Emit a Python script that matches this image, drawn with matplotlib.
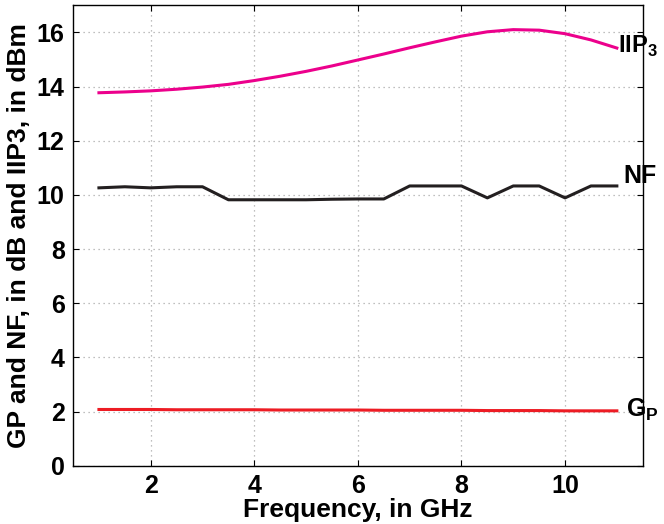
import matplotlib
matplotlib.use("Agg")
from matplotlib import pyplot as plt

# frequency points, GHz
freq = [1, 1.5, 2, 2.5, 3, 3.5, 4, 4.5, 5, 5.5, 6, 6.5, 7, 7.5, 8, 8.5, 9, 9.5, 10, 10.5, 11]

iip3 = [13.77, 13.8, 13.84, 13.9, 13.98, 14.08, 14.22, 14.38, 14.56, 14.76, 14.98,
        15.2, 15.43, 15.65, 15.86, 16.02, 16.1, 16.08, 15.95, 15.72, 15.42]
nf = [10.26, 10.3, 10.26, 10.3, 10.3, 9.82, 9.82, 9.82, 9.82, 9.84, 9.85,
      9.85, 10.33, 10.33, 10.33, 9.89, 10.33, 10.33, 9.89, 10.33, 10.33]
gp = [2.08, 2.08, 2.08, 2.07, 2.07, 2.07, 2.07, 2.06, 2.06, 2.06, 2.06,
      2.05, 2.05, 2.05, 2.05, 2.04, 2.04, 2.04, 2.03, 2.03, 2.03]

plt.rcParams['font.family'] = ['Liberation Sans', 'DejaVu Sans']
plt.rcParams['font.weight'] = 'bold'
plt.rcParams['mathtext.fontset'] = 'custom'
plt.rcParams['mathtext.bf'] = 'Liberation Sans:bold'
plt.rcParams['mathtext.rm'] = 'Liberation Sans:bold'

fig = plt.figure(figsize=(6.64, 5.24), dpi=100)
ax = fig.add_axes([0.11, 0.111, 0.858, 0.879])

ax.plot(freq, iip3, color='#ec008c', lw=2.2)
ax.plot(freq, nf, color='#231f20', lw=2.2)
ax.plot(freq, gp, color='#ed1c24', lw=2.2)

ax.text(11.03, iip3[-1] + 0.05, 'IIP$_\\mathbf{3}$', fontsize=17, fontweight='bold', va='center', ha='left')
ax.text(11.12, nf[-1] + 0.35, 'NF', fontsize=18, fontweight='bold', va='center', ha='left')
ax.text(11.18, gp[-1] + 0.05, 'G$_\\mathbf{P}$', fontsize=18, fontweight='bold', va='center', ha='left')

ax.set_xlim(0.5, 11.5)
ax.set_ylim(0, 17)
ax.set_xticks([2, 4, 6, 8, 10])
ax.set_yticks(range(0, 17, 2))
ax.tick_params(direction='in', top=True, right=True, labelsize=18, length=4, pad=6)
for lab in ax.get_xticklabels() + ax.get_yticklabels():
    lab.set_fontweight('bold')
ax.grid(True, linestyle=(0, (1, 3)), color='#aaaaaa', lw=0.9)
for s in ax.spines.values():
    s.set_linewidth(1.0)

ax.set_xlabel('Frequency, in GHz', fontsize=19, fontweight='bold', labelpad=0)
ax.set_ylabel('GP and NF, in dB and IIP3, in dBm', fontsize=19, fontweight='bold', labelpad=4)

plt.savefig('out.png', dpi=100)
